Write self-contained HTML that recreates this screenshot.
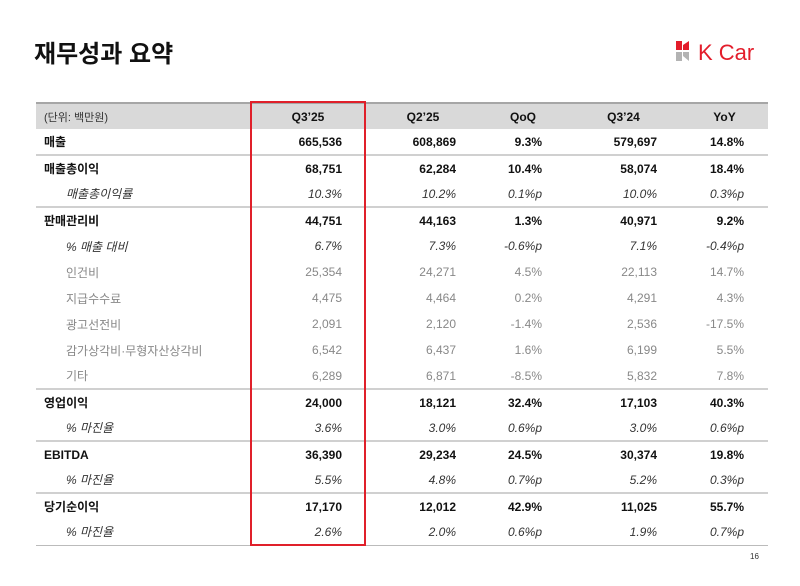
<!DOCTYPE html>
<html><head><meta charset="utf-8"><style>
body{margin:0;width:800px;height:586px;background:#fff;position:relative;font-family:"Liberation Sans","Noto Sans CJK KR",sans-serif;overflow:hidden}
.title{position:absolute;left:34px;top:34px;font-size:24px;font-weight:bold;color:#111}
.logo{position:absolute;left:676px;top:38px}
table{position:absolute;left:36px;top:102px;width:732px;border-collapse:collapse;font-size:12px;color:#111}
td{height:26px;padding:0;text-align:right;padding-right:24px;box-sizing:border-box}
td:first-child{text-align:left;padding-left:8px;padding-right:0}
tr.h td{background:#d9d9d9;font-weight:bold;text-align:center;padding-right:0;border-top:2px solid #a6a6a6;height:26px}
tr.h td:first-child{font-weight:normal;font-size:11px;color:#333;text-align:left}
tr.b td{font-weight:bold}
tr.i td{font-style:italic;color:#333}
tr.i td:first-child{padding-left:30px}
tr.g td{color:#888}
tr.g td:first-child{padding-left:30px}
tr.s td{border-bottom:2px solid #d0d0d0}
tr.last td{border-bottom:1px solid #bbb}
.red{position:absolute;left:250px;top:101px;width:112px;height:441px;border:2px solid #e0202a}
.pg{position:absolute;left:750px;top:552px;font-size:8px;color:#333}
</style></head><body>
<div class="title">재무성과 요약</div>
<div class="logo"><svg width="92" height="26">
<rect x="0" y="3" width="6" height="9" fill="#e31d2b"/><polygon points="7,7 13,3 13,12 7,12" fill="#e31d2b"/>
<rect x="0" y="14" width="6" height="9" fill="#b3b3b3"/><polygon points="7,14 13,14 13,23 7,18" fill="#b3b3b3"/>
<text x="22" y="22" font-family="Liberation Sans" font-size="22" fill="#e31d2b">K Car</text></svg></div>
<table>
<colgroup><col style="width:214px"><col style="width:116px"><col style="width:114px"><col style="width:86px"><col style="width:115px"><col style="width:87px"></colgroup>
<tr class="h"><td>(단위: 백만원)</td><td>Q3’25</td><td>Q2’25</td><td>QoQ</td><td>Q3’24</td><td>YoY</td></tr>
<tr class="b s"><td>매출</td><td>665,536</td><td>608,869</td><td>9.3%</td><td>579,697</td><td>14.8%</td></tr>
<tr class="b"><td>매출총이익</td><td>68,751</td><td>62,284</td><td>10.4%</td><td>58,074</td><td>18.4%</td></tr>
<tr class="i s"><td>매출총이익률</td><td>10.3%</td><td>10.2%</td><td>0.1%p</td><td>10.0%</td><td>0.3%p</td></tr>
<tr class="b"><td>판매관리비</td><td>44,751</td><td>44,163</td><td>1.3%</td><td>40,971</td><td>9.2%</td></tr>
<tr class="i"><td>% 매출 대비</td><td>6.7%</td><td>7.3%</td><td>-0.6%p</td><td>7.1%</td><td>-0.4%p</td></tr>
<tr class="g"><td>인건비</td><td>25,354</td><td>24,271</td><td>4.5%</td><td>22,113</td><td>14.7%</td></tr>
<tr class="g"><td>지급수수료</td><td>4,475</td><td>4,464</td><td>0.2%</td><td>4,291</td><td>4.3%</td></tr>
<tr class="g"><td>광고선전비</td><td>2,091</td><td>2,120</td><td>-1.4%</td><td>2,536</td><td>-17.5%</td></tr>
<tr class="g"><td>감가상각비·무형자산상각비</td><td>6,542</td><td>6,437</td><td>1.6%</td><td>6,199</td><td>5.5%</td></tr>
<tr class="g s"><td>기타</td><td>6,289</td><td>6,871</td><td>-8.5%</td><td>5,832</td><td>7.8%</td></tr>
<tr class="b"><td>영업이익</td><td>24,000</td><td>18,121</td><td>32.4%</td><td>17,103</td><td>40.3%</td></tr>
<tr class="i s"><td>% 마진율</td><td>3.6%</td><td>3.0%</td><td>0.6%p</td><td>3.0%</td><td>0.6%p</td></tr>
<tr class="b"><td>EBITDA</td><td>36,390</td><td>29,234</td><td>24.5%</td><td>30,374</td><td>19.8%</td></tr>
<tr class="i s"><td>% 마진율</td><td>5.5%</td><td>4.8%</td><td>0.7%p</td><td>5.2%</td><td>0.3%p</td></tr>
<tr class="b"><td>당기순이익</td><td>17,170</td><td>12,012</td><td>42.9%</td><td>11,025</td><td>55.7%</td></tr>
<tr class="i last"><td>% 마진율</td><td>2.6%</td><td>2.0%</td><td>0.6%p</td><td>1.9%</td><td>0.7%p</td></tr>
</table>
<div class="red"></div>
<div class="pg">16</div>
</body></html>
